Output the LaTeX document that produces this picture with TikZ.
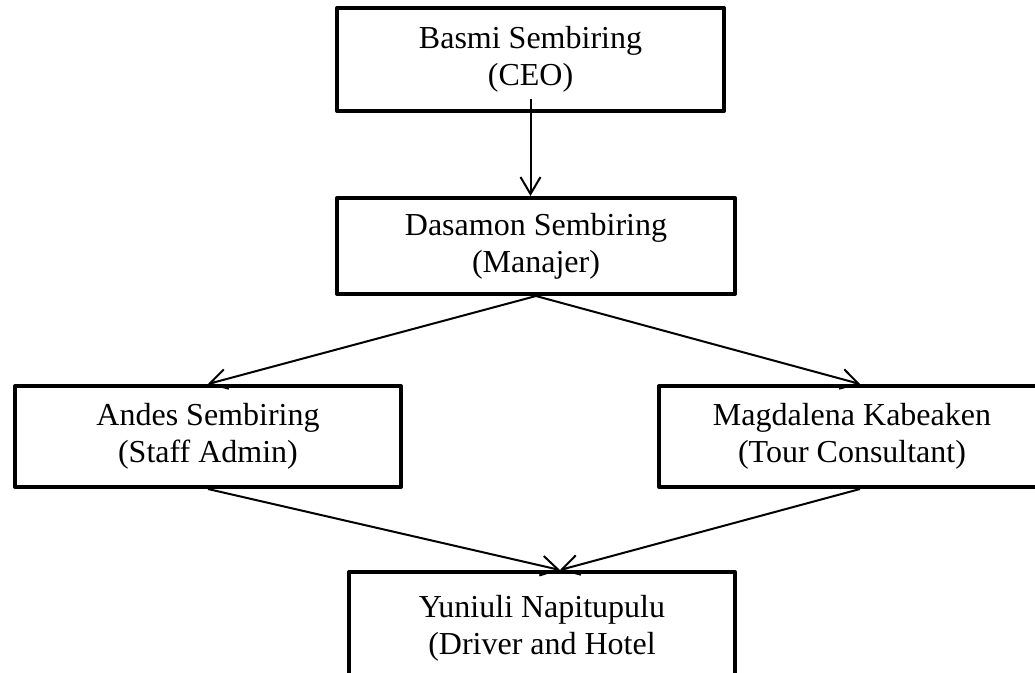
\documentclass[tikz,border=0pt]{standalone}
\usepackage{fontspec}
\setmainfont{Liberation Serif}
\usetikzlibrary{arrows.meta}

\begin{document}
\begin{tikzpicture}[
    x=1pt, y=-1pt,
    box/.style={rectangle, draw=black, line width=4pt, line join=round, align=center, inner sep=0pt, font=\fontsize{32}{37}\selectfont},
    arrow/.style={-{Straight Barb[length=17pt, width=20pt]}, line width=2pt}
]
\useasboundingbox (0,0) rectangle (1035,672);

% Top levels
\node[box, minimum width=387pt, minimum height=103pt] (ceo) at (530.5,59.5) {Basmi Sembiring\\(CEO)};
\node[box, minimum width=398pt, minimum height=96pt] (mgr) at (536,246) {Dasamon Sembiring\\(Manajer)};

% Staff
\node[box, minimum width=386pt, minimum height=101pt] (adm) at (208,436.5) {Andes Sembiring\\(Staff Admin)};
\node[box, minimum width=386pt, minimum height=101pt] (tour) at (852,436.5) {Magdalena Kabeaken\\(Tour Consultant)};
\node[box, minimum width=386pt, minimum height=112pt] (drv) at (542,628) {Yuniuli Napitupulu\\(Driver and Hotel};

% Arrows
\draw[arrow] ([yshift=14pt]ceo.south) -- (ceo.south |- mgr.north);
\draw[arrow] (mgr.south) -- (adm.north);
\draw[arrow] (mgr.south) -- ([xshift=8pt]tour.north);
\draw[arrow] (adm.south) -- ([xshift=18pt]drv.north);
\draw[arrow] ([xshift=8pt]tour.south) -- ([xshift=18pt]drv.north);

\end{tikzpicture}
\end{document}
